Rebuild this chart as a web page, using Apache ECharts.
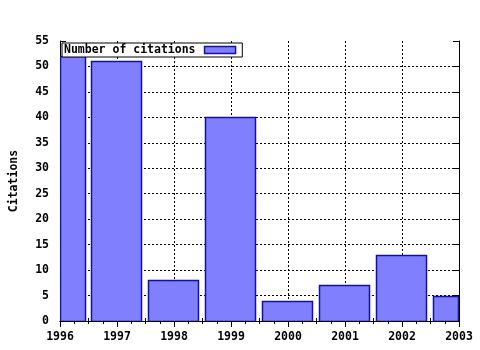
<!DOCTYPE html>
<html><head><meta charset="utf-8">
<script src="https://cdn.jsdelivr.net/npm/echarts@6/dist/echarts.min.js"></script>
<style>html,body{margin:0;padding:0;background:#fff}#c{width:480px;height:350px}</style>
</head><body><div id="c"></div>
<script>
const years = [1996, 1997, 1998, 1999, 2000, 2001, 2002, 2003];
const citations = [52, 51, 8, 40, 4, 7, 13, 5];
const yTicks = [0, 5, 10, 15, 20, 25, 30, 35, 40, 45, 50, 55];
const seriesName = 'Number of citations';
const yTitle = 'Citations';

const FONT = 'DejaVu Sans Mono';
const txt = {fontFamily: FONT, fontWeight: 'bold', fontSize: 11.5, color: '#000'};
const BAR_W = 0.9;
const FILL = '#8080ff', EDGE = '#1010a8';
const chart = echarts.init(document.getElementById('c'), null, {renderer: 'canvas'});
const xBase = {
  type: 'value', min: years[0], max: years[years.length - 1], interval: 1,
  axisLine: {show: true, lineStyle: {color: '#000', width: 1}},
  axisTick: {show: true, inside: true, length: 6, lineStyle: {color: '#000'}},
  minorTick: {show: true, splitNumber: 4, length: 3, lineStyle: {color: '#000'}},
  splitLine: {show: false}
};
const gridLine = {show: true, showMinLine: false, showMaxLine: false, lineStyle: {color: '#000', type: [2, 2], width: 1}};
chart.setOption({
  animation: false,
  backgroundColor: '#fff',
  grid: {left: 57, right: 21, top: 41, bottom: 29, containLabel: false},
  legend: {
    left: 62, top: 43, align: 'right', orient: 'horizontal',
    itemWidth: 31, itemHeight: 7, itemGap: 4,
    backgroundColor: '#fff', borderColor: '#000', borderWidth: 1,
    padding: [1, 6, 1, 2],
    textStyle: Object.assign({}, txt, {padding: [0, 4, 0, 0]}),
    icon: 'rect',
    data: [{name: seriesName, itemStyle: {color: FILL, borderColor: EDGE, borderWidth: 1.5}}]
  },
  xAxis: [
    Object.assign({}, xBase, {
      position: 'bottom',
      axisLabel: Object.assign({}, txt, {margin: 10, formatter: v => String(v)}),
      splitLine: gridLine
    }),
    Object.assign({}, xBase, {position: 'top', z: 5, axisLabel: {show: false}})
  ],
  yAxis: [
    {
      type: 'value', min: yTicks[0], max: yTicks[yTicks.length - 1], interval: 5,
      name: yTitle, nameLocation: 'middle', nameGap: 40, nameRotate: 90,
      nameTextStyle: txt,
      axisLine: {show: true, lineStyle: {color: '#000'}},
      axisTick: {show: true, inside: true, length: 6, lineStyle: {color: '#000'}},
      axisLabel: Object.assign({}, txt, {margin: 11}),
      splitLine: gridLine
    },
    {
      type: 'value', min: yTicks[0], max: yTicks[yTicks.length - 1], interval: 5, position: 'right', z: 5,
      axisLine: {show: true, lineStyle: {color: '#000'}},
      axisTick: {show: true, inside: true, length: 6, lineStyle: {color: '#000'}},
      axisLabel: {show: false}, splitLine: {show: false}
    }
  ],
  series: [{
    name: seriesName,
    type: 'custom',
    clip: true, z: 2,
    itemStyle: {color: FILL, borderColor: EDGE, borderWidth: 1.5},
    data: years.map((y, i) => [y, citations[i]]),
    renderItem: function (params, api) {
      const x = api.value(0), v = api.value(1);
      const p0 = api.coord([x - BAR_W / 2, v]);
      const p1 = api.coord([x + BAR_W / 2, 0]);
      const cs = params.coordSys;
      const x0 = Math.max(p0[0], cs.x), x1 = Math.min(p1[0], cs.x + cs.width);
      return {
        type: 'rect',
        shape: {x: Math.round(x0) + 0.5, y: Math.round(p0[1]) + 0.5, width: Math.round(x1 - x0) - 1, height: Math.round(p1[1] - p0[1])},
        style: {fill: FILL, stroke: EDGE, lineWidth: 1.5}
      };
    }
  }]
});
</script></body></html>
